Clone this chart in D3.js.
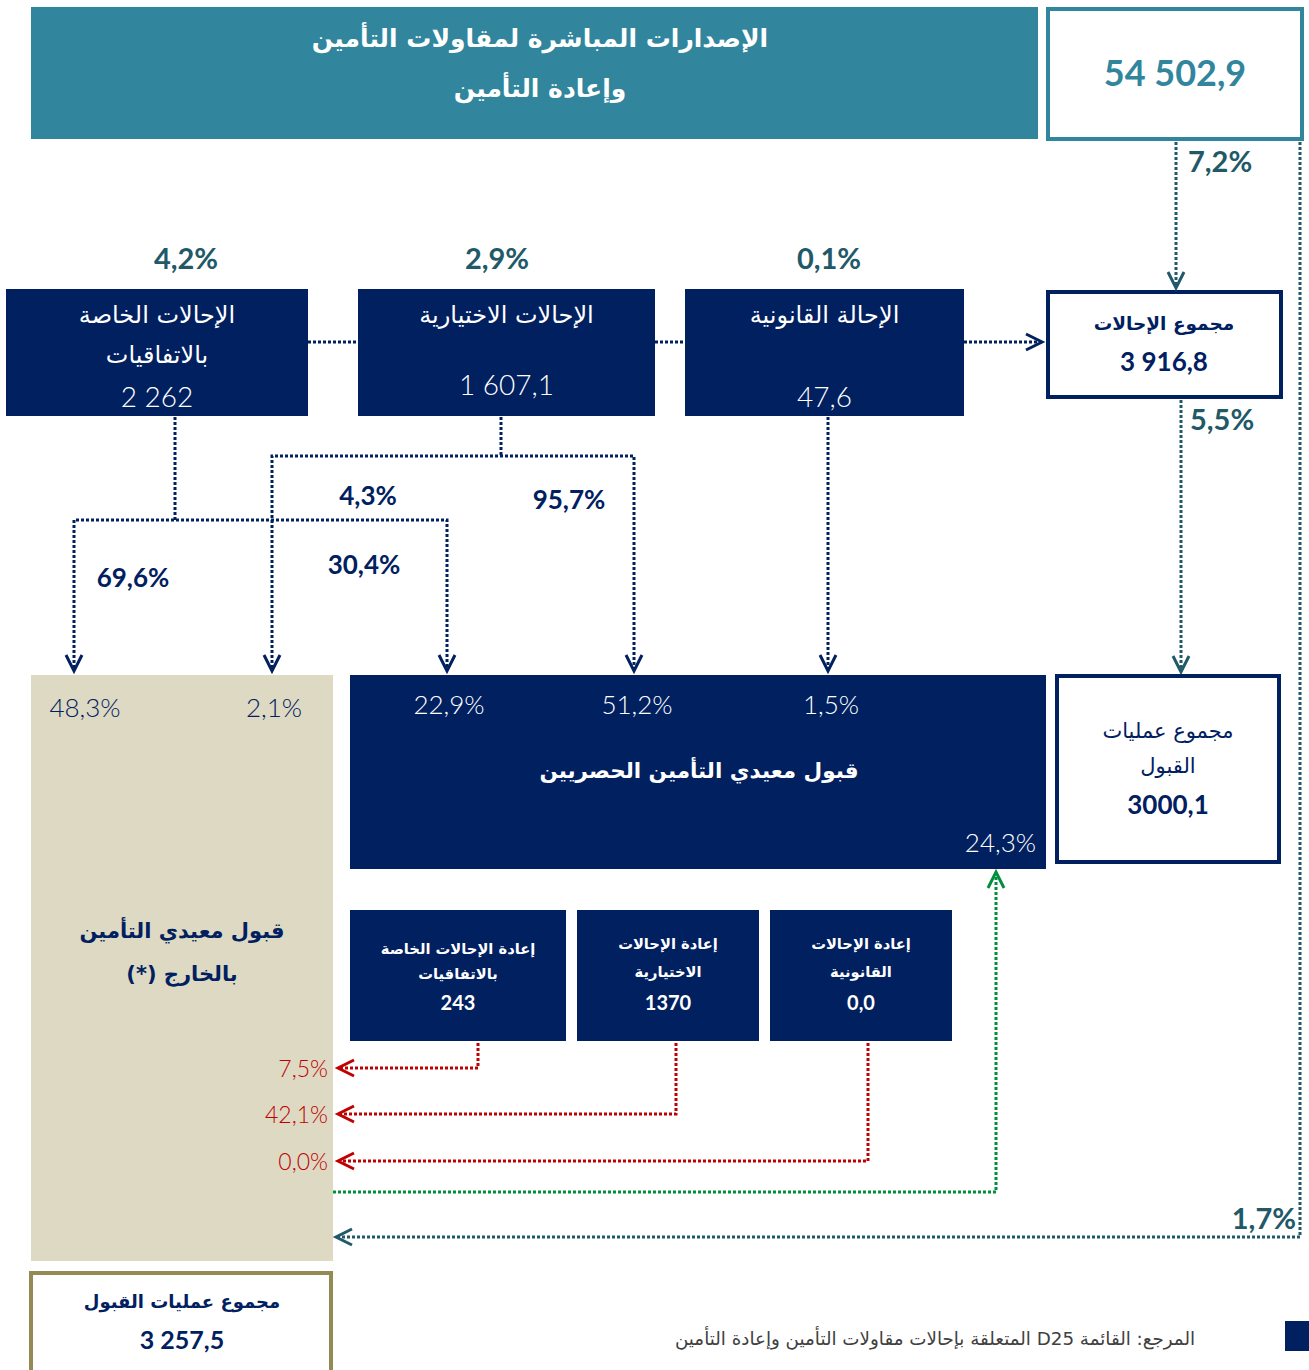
<!DOCTYPE html>
<html>
<head>
<meta charset="utf-8">
<script src="https://cdn.jsdelivr.net/npm/d3@7"></script>
<style>
  body { margin: 0; background: #fff; }
  text { font-family: "DejaVu Sans", sans-serif; }
  .num { font-family: Lato, "DejaVu Sans", sans-serif; }
</style>
</head>
<body>
<div id="chart-div"></div>
<script>
// ---- data ----
var titleLines = ["الإصدارات المباشرة لمقاولات التأمين", "وإعادة التأمين"];
var totalIssued = 54502.9;
var cessionNames = [["الإحالات الخاصة", "بالاتفاقيات"], ["الإحالات الاختيارية"], ["الإحالة القانونية"]];
var cessionValues = [2262, 1607.1, 47.6];
var cessionShares = [4.2, 2.9, 0.1];
var cessionTotal = 3916.8;
var cessionTotalShare = 7.2;     // of issued premiums
var acceptedShare = 5.5;         // of cessions accepted locally
var abroadDirectShare = 1.7;
var conventionSplit = [69.6, 30.4];   // abroad, exclusive
var optionalSplit = [4.3, 95.7];      // abroad, exclusive
var abroadShares = [48.3, 2.1];
var exclusiveShares = [22.9, 51.2, 1.5];
var exclusiveRetainedShare = 24.3;
var acceptTotal = 3000.1;
var retroNames = [["إعادة الإحالات الخاصة", "بالاتفاقيات"], ["إعادة الإحالات", "الاختيارية"], ["إعادة الإحالات", "القانونية"]];
var retroValues = [243, 1370, 0.0];
var retroShares = [7.5, 42.1, 0.0];
var abroadTotal = 3257.5;
var sourceNote = "المرجع: القائمة D25 المتعلقة بإحالات مقاولات التأمين وإعادة التأمين";

// ---- formats ----
var loc = d3.formatLocale({decimal: ",", thousands: " ", grouping: [3], currency: ["", ""]});
var fmt1 = loc.format(",.1f"), fmt0 = loc.format(",.0f"), plain1 = loc.format(".1f"), plain0 = loc.format(".0f");
var pct = function(v){ return plain1(v) + "%"; };

var C = {
  navy: "#002060", teal: "#31859c", tealDark: "#215968", beige: "#ddd9c3",
  red: "#c00000", green: "#00903c", olive: "#948a54", grey: "#404040"
};

var W = 1309, H = 1370;
var svg = d3.select("#chart-div").append("svg").attr("width", W).attr("height", H);

function dotted(points, color){
  svg.append("path")
    .attr("d", d3.line()(points))
    .style("fill", "none")
    .style("stroke", color)
    .style("stroke-width", 3)
    .style("stroke-dasharray", "3,2");
}
function arrow(x, y, dir, color){
  var p;
  if(dir == "down") p = [[x - 8, y - 16], [x, y], [x + 8, y - 16]];
  if(dir == "up") p = [[x - 8, y + 16], [x, y], [x + 8, y + 16]];
  if(dir == "left") p = [[x + 16, y - 8], [x, y], [x + 16, y + 8]];
  if(dir == "right") p = [[x - 16, y - 8], [x, y], [x - 16, y + 8]];
  svg.append("path").attr("d", d3.line()(p))
    .style("fill", "none").style("stroke", color).style("stroke-width", 3);
}
function label(x, y, txt, size, color, weight, anchor, cls){
  return svg.append("text")
    .attr("class", cls || null)
    .attr("x", x).attr("y", y)
    .attr("text-anchor", anchor || "middle")
    .attr("dominant-baseline", "central")
    .style("font-size", size + "px")
    .style("font-weight", weight || "normal")
    .style("fill", color)
    .text(txt);
}
function arLabel(x, y, txt, size, color, weight){
  return label(x, y, txt, size, color, weight).attr("direction", "rtl");
}

// ---- header ----
svg.append("rect").attr("x", 31).attr("y", 7).attr("width", 1007).attr("height", 132).style("fill", C.teal);
titleLines.forEach(function(t, i){ arLabel(540, 38 + i * 50, t, 25, "#fff", "bold"); });
svg.append("rect").attr("x", 1048).attr("y", 9).attr("width", 254).attr("height", 130)
  .style("fill", "#fff").style("stroke", C.teal).style("stroke-width", 4);
label(1175, 72, fmt1(totalIssued), 36, C.teal, "bold", "middle", "num");

// ---- cession boxes ----
var cBoxes = [{x: 6, w: 302}, {x: 358, w: 297}, {x: 685, w: 279}];
var cShareX = [186, 497, 829];
var cTop = 289, cH = 127;
cBoxes.forEach(function(b, i){
  svg.append("rect").attr("x", b.x).attr("y", cTop).attr("width", b.w).attr("height", cH).style("fill", C.navy);
  var cx = b.x + b.w / 2;
  cessionNames[i].forEach(function(t, j){ arLabel(cx, 315 + j * 40, t, 24, "#fff"); });
  var v = i == 0 ? fmt0(cessionValues[i]) : fmt1(cessionValues[i]);
  label(cx, i == 1 ? 384 : 396, v, 28, "#fff", 300, "middle", "num");
  label(cShareX[i], 257, pct(cessionShares[i]), 29, C.tealDark, "bold", "middle", "num");
});
// total cessions box
svg.append("rect").attr("x", 1048).attr("y", 292).attr("width", 233).attr("height", 105)
  .style("fill", "#fff").style("stroke", C.navy).style("stroke-width", 4);
arLabel(1164, 323, "مجموع الإحالات", 18.5, C.navy, "bold");
label(1164, 361, fmt1(cessionTotal), 26, C.navy, "bold", "middle", "num");

// horizontal links between cession boxes
dotted([[308, 342], [358, 342]], C.navy);
dotted([[655, 342], [685, 342]], C.navy);
dotted([[964, 342], [1040, 342]], C.navy);
arrow(1042, 342, "right", C.navy);

// issued -> total cessions
dotted([[1176, 142], [1176, 286]], C.tealDark);
arrow(1176, 288, "down", C.tealDark);
label(1188, 160, pct(cessionTotalShare), 29, C.tealDark, "bold", "start", "num");

// right side line down to abroad box
dotted([[1300, 142], [1300, 1237], [338, 1237]], C.tealDark);
arrow(336, 1237, "left", C.tealDark);
label(1296, 1217, pct(abroadDirectShare), 29, C.tealDark, "bold", "end", "num");

// total cessions -> total accepted
dotted([[1181, 400], [1181, 670]], C.tealDark);
arrow(1181, 672, "down", C.tealDark);
label(1190, 418, pct(acceptedShare), 29, C.tealDark, "bold", "start", "num");

// conventional split
dotted([[175, 417], [175, 520]], C.navy);
dotted([[74, 668], [74, 520], [447, 520], [447, 668]], C.navy);
arrow(74, 671, "down", C.navy);
arrow(447, 671, "down", C.navy);
label(133, 577, pct(conventionSplit[0]), 26, C.navy, "bold", "middle", "num");
label(364, 564, pct(conventionSplit[1]), 26, C.navy, "bold", "middle", "num");

// optional split
dotted([[501, 417], [501, 456]], C.navy);
dotted([[272, 668], [272, 456], [634, 456], [634, 668]], C.navy);
arrow(272, 671, "down", C.navy);
arrow(634, 671, "down", C.navy);
label(368, 495, pct(optionalSplit[0]), 26, C.navy, "bold", "middle", "num");
label(569, 499, pct(optionalSplit[1]), 26, C.navy, "bold", "middle", "num");

// legal cession
dotted([[828, 417], [828, 668]], C.navy);
arrow(828, 671, "down", C.navy);

// ---- abroad reinsurers (beige) ----
svg.append("rect").attr("x", 31).attr("y", 675).attr("width", 302).attr("height", 586).style("fill", C.beige);
var abroadX = [85, 274];
abroadShares.forEach(function(v, i){ label(abroadX[i], 707, pct(v), 26, C.navy, 300, "middle", "num"); });
arLabel(182, 931, "قبول معيدي التأمين", 21, C.navy, "bold");
arLabel(182, 974, "بالخارج (*)", 21, C.navy, "bold");

// ---- exclusive reinsurers ----
svg.append("rect").attr("x", 350).attr("y", 675).attr("width", 696).attr("height", 194).style("fill", C.navy);
var exX = [449, 637, 831];
exclusiveShares.forEach(function(v, i){ label(exX[i], 704, pct(v), 26, "#fff", 300, "middle", "num"); });
arLabel(699, 770, "قبول معيدي التأمين الحصريين", 21.5, "#fff", "bold");
label(1036, 842, pct(exclusiveRetainedShare), 26, "#fff", 300, "end", "num");

// total acceptance box
svg.append("rect").attr("x", 1057).attr("y", 676).attr("width", 222).attr("height", 186)
  .style("fill", "#fff").style("stroke", C.navy).style("stroke-width", 4);
arLabel(1168, 731, "مجموع عمليات", 21, C.navy);
arLabel(1168, 766, "القبول", 21, C.navy);
label(1168, 804, plain1(acceptTotal), 26, C.navy, "bold", "middle", "num");

// ---- retrocession boxes ----
var rBoxes = [{x: 350, w: 216}, {x: 577, w: 182}, {x: 770, w: 182}];
var rLineX = [478, 676, 868];
var rLineY = [1068, 1114, 1161];
rBoxes.forEach(function(b, i){
  svg.append("rect").attr("x", b.x).attr("y", 910).attr("width", b.w).attr("height", 131).style("fill", C.navy);
  var cx = b.x + b.w / 2;
  var y0 = i == 0 ? 948 : 943;
  retroNames[i].forEach(function(t, j){ arLabel(cx, y0 + j * (i == 0 ? 25 : 28), t, 14.7, "#fff", "bold"); });
  var v = retroValues[i] == 0 ? plain1(retroValues[i]) : plain0(retroValues[i]);
  label(cx, 1002, v, 20, "#fff", "bold", "middle", "num");
  dotted([[rLineX[i], 1043], [rLineX[i], rLineY[i]], [340, rLineY[i]]], C.red);
  arrow(338, rLineY[i], "left", C.red);
  label(328, rLineY[i], pct(retroShares[i]), 23, C.red, 300, "end", "num");
});

// exclusive retained -> green loop back
dotted([[333, 1192], [996, 1192], [996, 875]], C.green);
arrow(996, 872, "up", C.green);

// ---- total abroad box ----
svg.append("rect").attr("x", 31).attr("y", 1273).attr("width", 300).attr("height", 100)
  .style("fill", "#fff").style("stroke", C.olive).style("stroke-width", 4);
arLabel(182, 1301, "مجموع عمليات القبول", 18, C.navy, "bold");
label(182, 1339, fmt1(abroadTotal), 25, C.navy, "bold", "middle", "num");

// ---- source ----
arLabel(935, 1338, sourceNote, 18.3, C.grey);
svg.append("rect").attr("x", 1285).attr("y", 1321).attr("width", 24).attr("height", 30).style("fill", C.navy);
</script>
</body>
</html>
